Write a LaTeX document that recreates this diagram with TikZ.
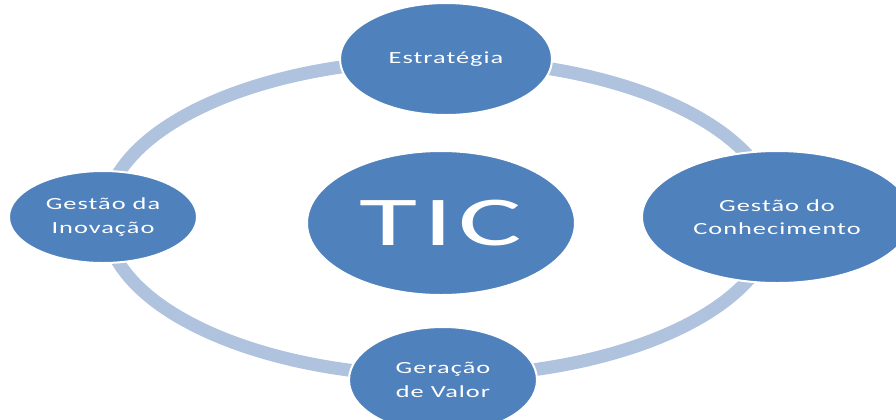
\documentclass[tikz,border=0pt]{standalone}
\usepackage{fontspec}
\usepackage{xcolor}
\usepackage{tikz}
\usetikzlibrary{shapes.geometric}
\newfontfamily\labelfont[FakeStretch=1.55,LetterSpace=6]{Carlito}
\newfontfamily\bigfont[FakeStretch=1.7,LetterSpace=8]{Carlito}
\definecolor{accentblue}{RGB}{79,129,189}
\definecolor{ringblue}{RGB}{176,195,222}
\tikzset{
  bubble/.style={ellipse, fill=accentblue, draw=white, line width=1.5pt,
    inner sep=0pt, text=white, align=center,
    font=\labelfont\fontsize{12.75}{17.5}\selectfont},
  ring/.style={draw=ringblue, line width=9.75pt}
}

\begin{document}
\begin{tikzpicture}[x=0.75pt,y=-0.75pt]
    \useasboundingbox (0,0) rectangle (896,419);
    \clip (0,0) rectangle (896,419);
    \coordinate (C) at (440, 218);
    \coordinate (T) at (446, 59);
    \coordinate (R) at (777, 217);
    \coordinate (L) at (103, 217);
    \coordinate (B) at (443, 380);
    \coordinate (M) at (441, 223);

    % cycle ring
    \draw[ring] (C) ellipse [x radius=335, y radius=158];

    \node[bubble, minimum width=159pt, minimum height=84pt] (estrategia) at (T) {Estratégia};
    \node[bubble, minimum width=202.5pt, minimum height=99pt] (conhecimento) at (R) {Gestão do\\Conhecimento};
    \node[bubble, minimum width=141pt, minimum height=69pt] (inovacao) at (L) {Gestão da\\Inovação};
    \node[bubble, minimum width=141pt, minimum height=79.5pt] (valor) at (B) {Geração\\de Valor};
    \node[bubble, minimum width=201pt, minimum height=108pt,
          font=\bigfont\fontsize{52.5}{52.5}\selectfont] (tic) at (M) {TIC};
\end{tikzpicture}
\end{document}
